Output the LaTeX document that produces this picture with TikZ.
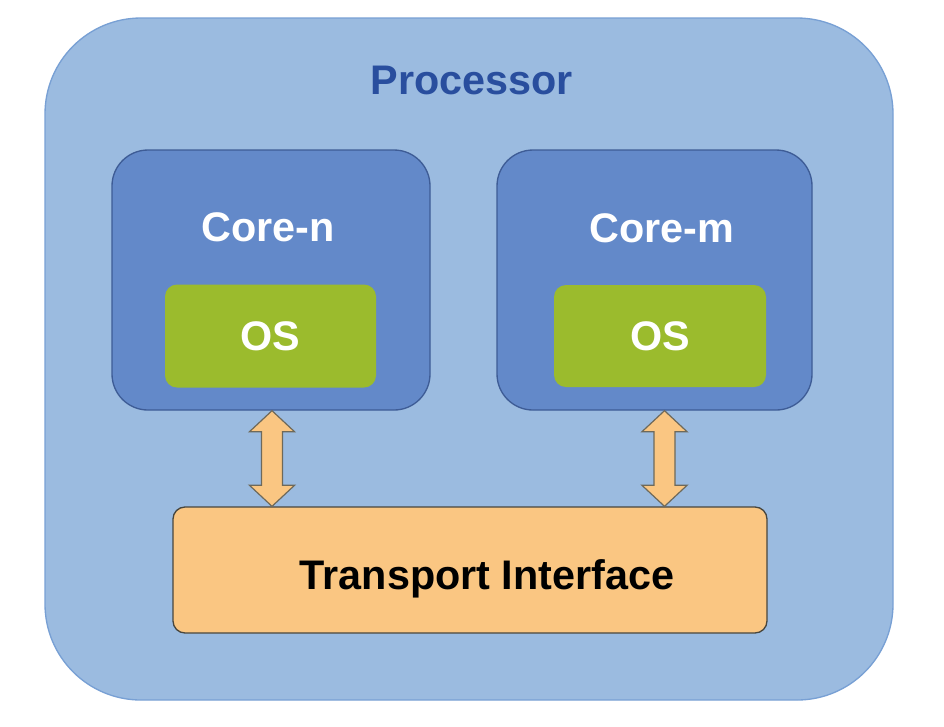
\documentclass[tikz,border=0pt]{standalone}
\usepackage{fontspec}
\setmainfont{Liberation Sans}
\usetikzlibrary{calc}
\definecolor{procfill}{RGB}{155,187,224}
\definecolor{procdraw}{RGB}{120,160,212}
\definecolor{proctext}{RGB}{41,78,158}
\definecolor{corefill}{RGB}{99,137,201}
\definecolor{coredraw}{RGB}{62,92,150}
\definecolor{osfill}{RGB}{155,187,45}
\definecolor{tifill}{RGB}{250,198,130}
\definecolor{tidraw}{RGB}{72,70,62}
\definecolor{arrdraw}{RGB}{110,105,90}
\tikzset{
  box/.style={rectangle, inner sep=0pt, font=\bfseries\fontsize{31}{36}\selectfont},
  procbox/.style={box, fill=procfill, draw=procdraw, line width=1pt, rounded corners=72pt},
  corebox/.style={box, fill=corefill, draw=coredraw, line width=1pt, rounded corners=27pt},
  osbox/.style={box, fill=osfill, rounded corners=9pt, text=white},
  tibox/.style={box, fill=tifill, draw=tidraw, line width=1pt, rounded corners=9pt, text=black},
  lbl/.style={inner sep=0pt, font=\bfseries\fontsize{31}{36}\selectfont},
  dblarrow/.style={fill=tifill, draw=arrdraw, line width=0.9pt, line join=miter}
}
\begin{document}
\begin{tikzpicture}[x=0.75pt,y=-0.75pt]
\useasboundingbox (0,0) rectangle (944,726);
% processor
\node[procbox, minimum width=848*0.75pt, minimum height=682*0.75pt] (proc) at (469,359) {};
\node[lbl, text=proctext] (proclbl) at (472,80) {Processor};
% cores
\node[corebox, minimum width=318*0.75pt, minimum height=260*0.75pt] (coren) at (271,280) {};
\node[lbl, text=white] (corenlbl) at (268,227) {Core-n};
\node[osbox, minimum width=211*0.75pt, minimum height=103*0.75pt] (osn) at (270.5,336) {OS};
\node[corebox, minimum width=315*0.75pt, minimum height=260*0.75pt] (corem) at (654.5,280) {};
\node[lbl, text=white] (coremlbl) at (662,228) {Core-m};
\node[osbox, minimum width=212*0.75pt, minimum height=102*0.75pt] (osm) at (660,336) {OS};
% transport
\node[tibox, minimum width=594*0.75pt, minimum height=126*0.75pt] (ti) at (470,570) {};
\node[lbl, text=black] (tilbl) at (487,579) {Transport Interface};
% double arrows
\coordinate (an) at ($(coren.south)+(1,0)$);
\coordinate (bn) at (an |- ti.north);
\draw[dblarrow] (an) -- ++(22.5,21) -- ++(-12,0) -- ($(bn)+(10.5,-21)$) -- ++(12,0)
  -- (bn) -- ++(-22.5,-21) -- ++(12,0) -- ($(an)+(-10.5,21)$) -- ++(-12,0) -- cycle;
\coordinate (am) at ($(corem.south)+(10,0)$);
\coordinate (bm) at (am |- ti.north);
\draw[dblarrow] (am) -- ++(22.5,21) -- ++(-12,0) -- ($(bm)+(10.5,-21)$) -- ++(12,0)
  -- (bm) -- ++(-22.5,-21) -- ++(12,0) -- ($(am)+(-10.5,21)$) -- ++(-12,0) -- cycle;
\end{tikzpicture}
\end{document}
